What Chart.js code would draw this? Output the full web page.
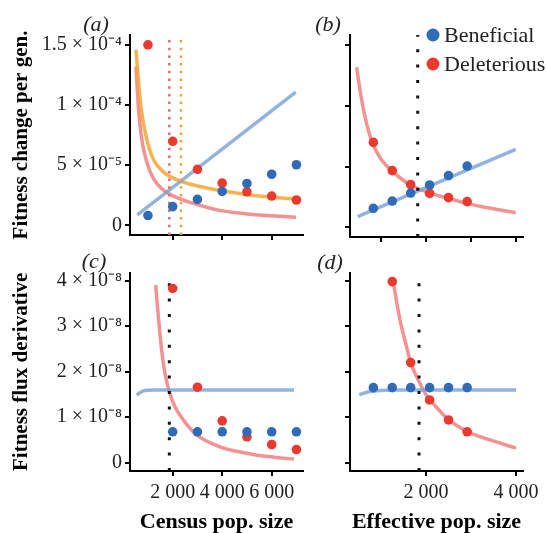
<!DOCTYPE html>
<html>
<head>
<meta charset="utf-8">
<script src="https://cdn.jsdelivr.net/npm/chart.js@4.4.1/dist/chart.umd.min.js"></script>
<style>
  body { margin: 0; background: #fff; }
  #wrap { position: relative; width: 546px; height: 533px; background: #fff; }
  #wrap canvas { position: absolute; }
</style>
</head>
<body>
<div id="wrap">
  <canvas id="panelA" width="310" height="250" style="left:0px;top:0px"></canvas>
  <canvas id="panelB" width="236" height="250" style="left:310px;top:0px"></canvas>
  <canvas id="panelC" width="310" height="283" style="left:0px;top:250px"></canvas>
  <canvas id="panelD" width="236" height="283" style="left:310px;top:250px"></canvas>
</div>
<script>
// population sizes of the simulated runs
var censusSize = [1000, 2000, 3000, 4000, 5000, 6000, 7000];
var effectiveSize = [null, 830, 1250, 1660, 2080, 2500, 2915];

// (a) and (b): fitness change per generation
var benChange = [0.82e-5, 1.56e-5, 2.16e-5, 2.82e-5, 3.48e-5, 4.25e-5, 5.04e-5];
var delChange = [1.50e-4, 6.99e-5, 4.66e-5, 3.51e-5, 2.79e-5, 2.44e-5, 2.11e-5];

// (c): flux derivative against census size
var benFluxC = [null, 0.68e-8, 0.68e-8, 0.68e-8, 0.68e-8, 0.68e-8, 0.68e-8];
var delFluxC = [null, 3.83e-8, 1.66e-8, 0.92e-8, 0.57e-8, 0.40e-8, 0.29e-8];

// (d): flux derivative against effective size
var benFluxD = [null, 1.65e-8, 1.65e-8, 1.65e-8, 1.65e-8, 1.65e-8, 1.65e-8];
var delFluxD = [null, null, 3.98e-8, 2.20e-8, 1.38e-8, 0.94e-8, 0.68e-8];

// fitted curves
var benFitA_x = [570, 6970];
var benFitA_y = [0.87e-5, 1.107e-4];
var delFitA_x = [517, 612, 747, 949, 1218, 1620, 2295, 2970, 3900, 5000, 6000, 6980];
var delFitA_y = [13.2e-5, 9.9e-5, 7.2e-5, 5.3e-5, 3.9e-5, 2.95e-5, 2.2e-5, 1.75e-5, 1.25e-5, 0.95e-5, 0.8e-5, 0.68e-5];
var totFitA_x = [517, 612, 747, 949, 1218, 1620, 2295, 2970, 4046, 4990, 5930, 6980];
var totFitA_y = [14.6e-5, 12.1e-5, 9.4e-5, 7.2e-5, 5.5e-5, 4.45e-5, 3.7e-5, 3.3e-5, 2.85e-5, 2.57e-5, 2.35e-5, 2.18e-5];

var benFitB_x = [481, 3993];
var benFitB_y = [0.87e-5, 6.41e-5];
var delFitB_x = [459, 533, 644, 807, 1015, 1237, 1651, 2067, 2482, 2904, 3422, 3993];
var delFitB_y = [13.16e-5, 11.3e-5, 9.1e-5, 6.96e-5, 5.54e-5, 4.66e-5, 3.48e-5, 2.85e-5, 2.39e-5, 1.97e-5, 1.56e-5, 1.2e-5];

var benFitC_x = [545, 810, 1216, 6900];
var benFitC_y = [1.49e-8, 1.58e-8, 1.6e-8, 1.6e-8];
var delFitC_x = [1312, 1420, 1554, 1689, 1864, 2093, 2430, 2968, 3911, 4989, 5931, 6901];
var delFitC_y = [3.905e-8, 3.21e-8, 2.48e-8, 1.96e-8, 1.56e-8, 1.23e-8, 0.94e-8, 0.61e-8, 0.35e-8, 0.21e-8, 0.13e-8, 0.08e-8];

var benFitD_x = [518, 682, 904, 1300, 4000];
var benFitD_y = [1.49e-8, 1.55e-8, 1.58e-8, 1.6e-8, 1.6e-8];
var delFitD_x = [1274, 1422, 1570, 1660, 1867, 2029, 2089, 2511, 2926, 3422, 4000];
var delFitD_y = [3.96e-8, 3.14e-8, 2.54e-8, 2.2e-8, 1.74e-8, 1.45e-8, 1.38e-8, 0.94e-8, 0.68e-8, 0.5e-8, 0.32e-8];

// critical population sizes (vertical markers)
var critDelA = 1863, critTotA = 2335, critB = 1816, critC = 1864, critD = 1845;

// axis ticks
var yTicksChange = [0, 5e-5, 1e-4, 1.5e-4];
var yLabelsChange = ['0', '5 \u00d7 10\u207b\u2075', '1 \u00d7 10\u207b\u2074', '1.5 \u00d7 10\u207b\u2074'];
var yTicksFlux = [0, 1e-8, 2e-8, 3e-8, 4e-8];
var yLabelsFlux = ['0', '1 \u00d7 10\u207b\u2078', '2 \u00d7 10\u207b\u2078', '3 \u00d7 10\u207b\u2078', '4 \u00d7 10\u207b\u2078'];
var xTicksCensus = [2000, 4000, 6000];
var xLabelsCensus = ['2 000', '4 000', '6 000'];
var xTicksEffTop = [1000, 2000, 3000, 4000];
var xTicksEff = [2000, 4000];
var xLabelsEff = ['2 000', '4 000'];

var BLUE = '#2f6bb7', RED = '#ea3a2e';
var BLUE_FIT = 'rgba(120,160,215,0.8)';
var RED_FIT = 'rgba(236,100,100,0.7)';
var ORANGE_FIT = 'rgba(245,165,50,0.85)';
var SERIF = '"Liberation Serif", "Times New Roman", serif';

var rangeChange = [-7.98e-6, 1.582e-4];
var rangeFlux = [-0.182e-8, 4.176e-8];
var rangeCensus = [275, 7265];
var rangeEff = [311, 4156];

function pts(xs, ys) {
  var out = [];
  for (var i = 0; i < xs.length; i++) {
    if (xs[i] != null && ys[i] != null) out.push({x: xs[i], y: ys[i]});
  }
  return out;
}
function dots(label, xs, ys, color) {
  return {label: label, data: pts(xs, ys), backgroundColor: color, borderWidth: 0,
    pointRadius: 4.8, showLine: false};
}
function curve(xs, ys, color) {
  return {data: pts(xs, ys), showLine: true, borderColor: color, borderWidth: 3.5,
    pointRadius: 0, cubicInterpolationMode: 'monotone', fill: false};
}
function vline(x, range, color, width, dash) {
  return {data: [{x: x, y: range[0]}, {x: x, y: range[1]}], showLine: true,
    borderColor: color, borderWidth: width, borderDash: dash, borderCapStyle: 'butt', pointRadius: 0};
}

// panel letters and the legend
var panelText = {
  id: 'panelText',
  afterDraw: function (chart, args, opts) {
    var ctx = chart.ctx;
    ctx.save();
    ctx.fillStyle = '#222';
    ctx.textBaseline = 'middle';
    if (opts.tag) {
      ctx.font = 'italic 22px ' + SERIF;
      ctx.textAlign = 'center';
      ctx.fillText(opts.tag, opts.tagX, opts.tagY);
    }
    if (opts.legend) {
      ctx.font = '22px ' + SERIF;
      ctx.textAlign = 'left';
      var items = chart.data.datasets.filter(function (d) { return d.label; });
      items.forEach(function (d, i) {
        var y = opts.legendY + i * 29;
        ctx.fillStyle = d.backgroundColor;
        ctx.beginPath();
        ctx.arc(opts.legendX, y, 6.5, 0, Math.PI * 2);
        ctx.fill();
        ctx.fillStyle = '#222';
        ctx.fillText(d.label, opts.legendX + 11, y + 1);
      });
    }
    ctx.restore();
  }
};

function axisOpts(a) {
  return {
    type: 'linear',
    min: a.range[0],
    max: a.range[1],
    afterBuildTicks: function (s) {
      s.ticks = a.ticks.map(function (v) { return {value: v}; });
    },
    afterFit: function (s) {
      if (a.width != null) s.width = a.width;
      if (a.height != null) s.height = a.height;
    },
    border: {display: true, color: '#000', width: 2},
    grid: {drawOnChartArea: false, drawTicks: true, tickLength: 5, color: '#000', lineWidth: 2},
    ticks: {
      display: !!a.labels,
      autoSkip: false,
      maxRotation: 0,
      padding: a.pad || 3,
      color: '#222',
      font: {family: SERIF, size: 20},
      callback: function (v, i) { return a.labels ? a.labels[i] : ''; }
    },
    title: a.title ? {
      display: true, text: a.title, color: '#000',
      font: {family: SERIF, size: a.titleSize, weight: 'bold', lineHeight: 1},
      padding: a.titlePad
    } : {display: false}
  };
}

function makePanel(id, cfg) {
  return new Chart(document.getElementById(id), {
    type: 'scatter',
    data: {datasets: cfg.datasets},
    options: {
      responsive: false,
      animation: false,
      events: [],
      layout: {padding: cfg.padding},
      plugins: {legend: {display: false}, tooltip: {enabled: false}, panelText: cfg.text},
      scales: {x: axisOpts(cfg.x), y: axisOpts(cfg.y)}
    },
    plugins: [panelText]
  });
}

makePanel('panelA', {
  padding: {top: 35, right: 7, bottom: 0, left: 0},
  text: {tag: '(a)', tagX: 96, tagY: 25},
  x: {range: rangeCensus, ticks: xTicksCensus, height: 13},
  y: {range: rangeChange, ticks: yTicksChange, labels: yLabelsChange, width: 130,
      title: 'Fitness change per gen.', titleSize: 21, titlePad: {top: 11.5, bottom: 0}},
  datasets: [
    dots('Beneficial', censusSize, benChange, BLUE),
    dots('Deleterious', censusSize, delChange, RED),
    vline(critDelA, rangeChange, '#e86a6a', 2.5, [2.5, 5.2]),
    vline(critTotA, rangeChange, '#f0a332', 2.5, [2.5, 5.2]),
    curve(benFitA_x, benFitA_y, BLUE_FIT),
    curve(totFitA_x, totFitA_y, ORANGE_FIT),
    curve(delFitA_x, delFitA_y, RED_FIT)
  ]
});

makePanel('panelB', {
  padding: {top: 35, right: 23, bottom: 0, left: 0},
  text: {tag: '(b)', tagX: 18, tagY: 25, legend: true, legendX: 123, legendY: 35},
  x: {range: rangeEff, ticks: xTicksEffTop, height: 13},
  y: {range: rangeChange, ticks: yTicksChange, width: 40},
  datasets: [
    dots('Beneficial', effectiveSize, benChange, BLUE),
    dots('Deleterious', effectiveSize, delChange.map(function (v, i) { return i === 0 ? null : v; }), RED),
    vline(critB, rangeChange, '#111', 3, [3, 12.4]),
    curve(benFitB_x, benFitB_y, BLUE_FIT),
    curve(delFitB_x, delFitB_y, RED_FIT)
  ]
});

makePanel('panelC', {
  padding: {top: 22.7, right: 7, bottom: 0, left: 0},
  text: {tag: '(c)', tagX: 94, tagY: 12},
  x: {range: rangeCensus, ticks: xTicksCensus, labels: xLabelsCensus, height: 62, pad: 5,
      title: 'Census pop. size', titleSize: 22, titlePad: {top: 0, bottom: 0}},
  y: {range: rangeFlux, ticks: yTicksFlux, labels: yLabelsFlux, width: 130,
      title: 'Fitness flux derivative', titleSize: 21, titlePad: {top: 11.5, bottom: 0}},
  datasets: [
    dots('Beneficial', censusSize, benFluxC, BLUE),
    dots('Deleterious', censusSize, delFluxC, RED),
    vline(critC, rangeFlux, '#111', 3, [3, 12.4]),
    curve(benFitC_x, benFitC_y, BLUE_FIT),
    curve(delFitC_x, delFitC_y, RED_FIT)
  ]
});

makePanel('panelD', {
  padding: {top: 22.7, right: 23, bottom: 0, left: 0},
  text: {tag: '(d)', tagX: 20, tagY: 13},
  x: {range: rangeEff, ticks: xTicksEff, labels: xLabelsEff, height: 62, pad: 5,
      title: 'Effective pop. size', titleSize: 22, titlePad: {top: 0, bottom: 0}},
  y: {range: rangeFlux, ticks: yTicksFlux, width: 40},
  datasets: [
    dots('Beneficial', effectiveSize, benFluxD, BLUE),
    dots('Deleterious', effectiveSize, delFluxD, RED),
    vline(critD, rangeFlux, '#111', 3, [3, 12.4]),
    curve(benFitD_x, benFitD_y, BLUE_FIT),
    curve(delFitD_x, delFitD_y, RED_FIT)
  ]
});
</script>
</body>
</html>
